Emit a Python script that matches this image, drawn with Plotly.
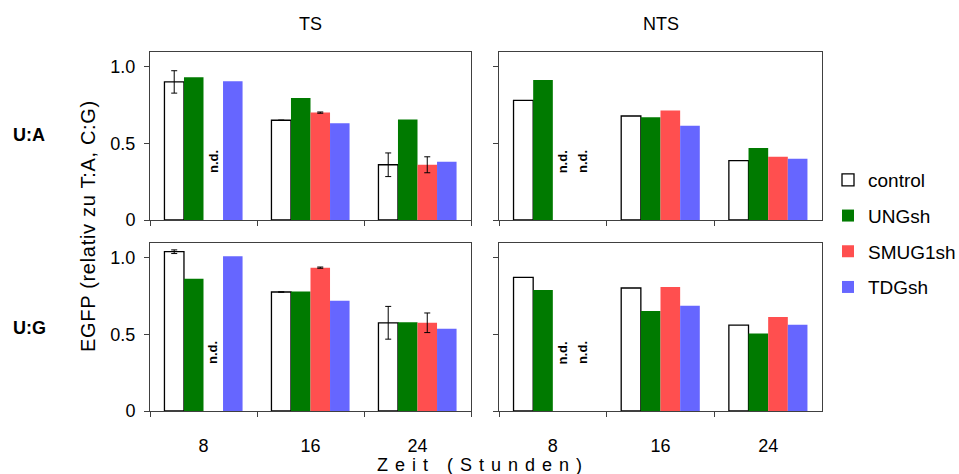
import plotly.graph_objects as go

# Time points (hours after transfection)
hours = ["8", "16", "24"]
series = ["control", "UNGsh", "SMUG1sh", "TDGsh"]
fills = {"control": "#FFFFFF", "UNGsh": "#007A00", "SMUG1sh": "#FF4F4F", "TDGsh": "#6666FF"}

# U:A, transcribed strand (TS)
ua_ts_control = [0.90, 0.65, 0.36]
ua_ts_control_err = [0.073, 0.0, 0.077]
ua_ts_ung = [0.93, 0.795, 0.655]
ua_ts_smug = [None, 0.70, 0.36]
ua_ts_smug_err = [0.0, 0.004, 0.052]
ua_ts_tdg = [0.905, 0.63, 0.38]

# U:A, non-transcribed strand (NTS)
ua_nts_control = [0.78, 0.678, 0.387]
ua_nts_ung = [0.913, 0.67, 0.47]
ua_nts_smug = [None, 0.713, 0.413]
ua_nts_tdg = [None, 0.615, 0.40]

# U:G, transcribed strand (TS)
ug_ts_control = [1.04, 0.777, 0.576]
ug_ts_control_err = [0.012, 0.0, 0.107]
ug_ts_ung = [0.864, 0.781, 0.58]
ug_ts_smug = [None, 0.936, 0.576]
ug_ts_smug_err = [0.0, 0.004, 0.064]
ug_ts_tdg = [1.01, 0.72, 0.537]

# U:G, non-transcribed strand (NTS)
ug_nts_control = [0.873, 0.803, 0.561]
ug_nts_ung = [0.79, 0.653, 0.506]
ug_nts_smug = [None, 0.81, 0.614]
ug_nts_tdg = [None, 0.688, 0.563]

panels = [
    # (x axis id, y axis id, values per series, errors per series)
    ("x", "y", [ua_ts_control, ua_ts_ung, ua_ts_smug, ua_ts_tdg],
     [ua_ts_control_err, None, ua_ts_smug_err, None]),
    ("x2", "y2", [ua_nts_control, ua_nts_ung, ua_nts_smug, ua_nts_tdg],
     [None, None, None, None]),
    ("x3", "y3", [ug_ts_control, ug_ts_ung, ug_ts_smug, ug_ts_tdg],
     [ug_ts_control_err, None, ug_ts_smug_err, None]),
    ("x4", "y4", [ug_nts_control, ug_nts_ung, ug_nts_smug, ug_nts_tdg],
     [None, None, None, None]),
]

FONT = "Liberation Sans, Arial, sans-serif"
BARGAP = 0.27
W, H = 959, 474

fig = go.Figure()
for p_idx, (xa, ya, vals, errs) in enumerate(panels):
    for s_idx, name in enumerate(series):
        err = errs[s_idx]
        fig.add_trace(go.Bar(
            x=hours, y=vals[s_idx], name=name,
            xaxis=xa, yaxis=ya,
            legendgroup=name, showlegend=(p_idx == 0),
            marker=dict(color=fills[name],
                        line=dict(color="#000000", width=1.3 if name == "control" else 0)),
            error_y=dict(type="data", array=err, visible=err is not None,
                         color="#000000", thickness=1, width=3),
            hoverinfo="skip",
        ))

# "n.d." (not determined) placed in the slot of each missing bar
annotations = []
slot_w = (1 - BARGAP) / len(series)
for p_idx, (xa, ya, vals, errs) in enumerate(panels):
    for s_idx, name in enumerate(series):
        for c_idx, v in enumerate(vals[s_idx]):
            if v is None:
                offset = (s_idx - (len(series) - 1) / 2) * slot_w
                annotations.append(dict(
                    x=c_idx + offset, y=0.38, xref=xa, yref=ya,
                    text="<b>n.d.</b>", textangle=-90, showarrow=False,
                    xanchor="center", yanchor="middle",
                    font=dict(family=FONT, size=13, color="#000000"),
                ))


def paper_label(px, py, text, size, angle=0):
    return dict(x=px / W, y=1 - py / H, xref="paper", yref="paper", text=text,
                textangle=angle, showarrow=False, xanchor="center", yanchor="middle",
                font=dict(family=FONT, size=size, color="#000000"))


# Column and row headings, shared axis titles
annotations += [
    paper_label(310.5, 23.5, "TS", 18),
    paper_label(660.5, 23.5, "NTS", 18),
    paper_label(29, 134.5, "<b>U:A</b>", 18),
    paper_label(29, 327.5, "<b>U:G</b>", 18),
    paper_label(88, 226, '<span style="letter-spacing:0.7px">EGFP (relativ zu T:A, C:G)</span>',
                20, angle=-90),
    paper_label(483, 464.5, '<span style="letter-spacing:7px">Zeit (Stunden)</span>', 18),
]

col_dom = [[150 / W, 471 / W], [499 / W, 822 / W]]
row_dom = [[1 - 220 / H, 1 - 52 / H], [1 - 411 / H, 1 - 243.3 / H]]
AXIS_COLOR = "#404040"

layout_axes = {}
for i in range(4):
    r, c = divmod(i, 2)
    sfx = "" if i == 0 else str(i + 1)
    layout_axes["xaxis" + sfx] = dict(
        domain=col_dom[c], anchor="y" + sfx, type="category", automargin=False,
        showline=True, mirror=True, linecolor=AXIS_COLOR, linewidth=1,
        ticks="outside", ticklen=5, tickcolor=AXIS_COLOR, tickson="boundaries",
        showticklabels=(r == 1), ticklabelstandoff=18,
        tickfont=dict(family=FONT, size=18, color="#000000"),
        showgrid=False, zeroline=False, fixedrange=True,
    )
    layout_axes["yaxis" + sfx] = dict(
        domain=row_dom[r], anchor="x" + sfx, range=[0, 1.095], automargin=False,
        tickvals=[0, 0.5, 1.0], ticktext=["0", "0.5", "1.0"],
        showline=True, mirror=True, linecolor=AXIS_COLOR, linewidth=1,
        ticks="outside", ticklen=5, tickcolor=AXIS_COLOR,
        showticklabels=(c == 0), ticklabelstandoff=5,
        tickfont=dict(family=FONT, size=18, color="#000000"),
        showgrid=False, zeroline=False, fixedrange=True,
    )

fig.update_layout(
    width=W, height=H,
    margin=dict(l=0, r=0, t=0, b=0, autoexpand=False),
    paper_bgcolor="#FFFFFF", plot_bgcolor="#FFFFFF",
    barmode="group", bargap=BARGAP, bargroupgap=0,
    showlegend=True,
    legend=dict(x=828 / W, y=1 - 161 / H, xanchor="left", yanchor="top",
                traceorder="grouped", tracegroupgap=8,
                font=dict(family=FONT, size=19, color="#000000"),
                bgcolor="rgba(0,0,0,0)"),
    annotations=annotations,
    **layout_axes,
)

fig.write_html("out.html", config={"displayModeBar": False})
